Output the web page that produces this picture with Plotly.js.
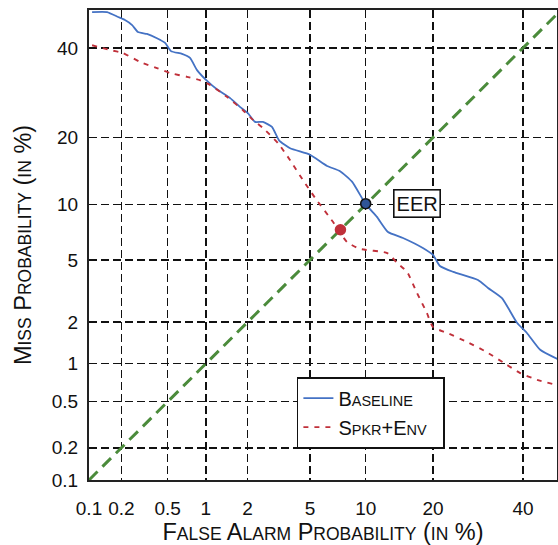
<!DOCTYPE html>
<html><head><meta charset="utf-8">
<script src="https://cdn.plot.ly/plotly-3.0.1.min.js"></script>
<style>html,body{margin:0;padding:0;background:#fff}#plot{width:558px;height:545px}</style>
</head><body><div id="plot"></div>
<script>
// Data (percent)
const baselineFA   = [0.107,0.148,0.187,0.215,0.249,0.280,0.335,0.407,0.476,0.532,0.653,0.755,0.856,1.04,1.21,1.51,1.77,2.01,2.25,2.54,2.91,3.23,3.79,4.99,6.25,7.37,8.52,10.0,11.35,12.8,14.97,18.2,20.0,21.3,23.9,29.2,31.5,34.8,38.5,41.0,44.4,49.0];
const baselineMiss = [49.3,49.3,48.0,47.2,45.9,44.1,43.6,42.5,41.3,39.2,38.5,37.5,34.5,31.7,30.0,28.0,26.1,24.8,23.0,23.0,22.0,19.5,18.1,17.0,15.2,14.4,12.9,10.05,8.65,7.19,6.67,5.86,5.34,4.60,4.24,3.78,3.37,2.90,1.98,1.68,1.27,1.08];
const spkrEnvFA    = [0.107,0.157,0.207,0.292,0.407,0.522,0.716,0.90,1.075,1.43,1.86,2.18,2.54,3.18,3.79,4.54,5.34,6.75,8.02,9.36,12.7,14.1,15.6,17.2,18.9,20.0,22.7,26.8,31.2,36.0,39.2,43.6,49.0];
const spkrEnvMiss  = [40.7,39.5,38.7,36.5,35.0,33.8,32.9,32.1,31.0,28.3,25.4,23.4,21.8,19.0,16.1,13.1,10.8,8.13,6.33,5.79,5.48,4.80,4.24,3.13,2.31,1.85,1.68,1.45,1.22,0.98,0.85,0.75,0.68];
const eerBaseline  = [10.0, 10.1];
const eerSpkrEnv   = [7.4, 7.4];
const diagonal     = [0.1, 50];
const tickValues   = [0.1,0.2,0.5,1,2,5,10,20,40];
const tickLabels   = ["0.1","0.2","0.5","1","2","5","10","20","40"];

// inverse normal CDF (Acklam)
function probit(p){
  const a=[-3.969683028665376e+01,2.209460984245205e+02,-2.759285104469687e+02,1.383577518672690e+02,-3.066479806614716e+01,2.506628277459239e+00];
  const b=[-5.447609879822406e+01,1.615858368580409e+02,-1.556989798598866e+02,6.680131188771972e+01,-1.328068155288572e+01];
  const c=[-7.784894002430293e-03,-3.223964580411365e-01,-2.400758277161838e+00,-2.549732539343734e+00,4.374664141464968e+00,2.938163982698783e+00];
  const d=[7.784695709041462e-03,3.224671290700398e-01,2.445134137142996e+00,3.754408661907416e+00];
  const pl=0.02425, ph=1-pl; let q,r;
  if(p<pl){q=Math.sqrt(-2*Math.log(p));return (((((c[0]*q+c[1])*q+c[2])*q+c[3])*q+c[4])*q+c[5])/((((d[0]*q+d[1])*q+d[2])*q+d[3])*q+1);}
  if(p<=ph){q=p-0.5;r=q*q;return (((((a[0]*r+a[1])*r+a[2])*r+a[3])*r+a[4])*r+a[5])*q/(((((b[0]*r+b[1])*r+b[2])*r+b[3])*r+b[4])*r+1);}
  q=Math.sqrt(-2*Math.log(1-p));return -(((((c[0]*q+c[1])*q+c[2])*q+c[3])*q+c[4])*q+c[5])/((((d[0]*q+d[1])*q+d[2])*q+d[3])*q+1);
}
const P = arr => arr.map(v => probit(v/100));

const FONT = '"Liberation Sans", Arial, Helvetica, sans-serif';
const sc = (big, small, s) => big + '<span style="font-size:'+s+'px">'+small+'</span>';
const pad = '<span style="font-size:19px">\u00A0\u00A0</span>';

const traces = [
  {x:P(diagonal), y:P(diagonal), mode:'lines', showlegend:false, hoverinfo:'skip',
   line:{color:'#4b8b3b', width:3, dash:'12px,7px'}},
  {x:P(baselineFA), y:P(baselineMiss), mode:'lines', name: sc('B','ASELINE',14.5),
   line:{color:'#4472c4', width:1.8, shape:'spline', smoothing:0.5}},
  {x:P(spkrEnvFA), y:P(spkrEnvMiss), mode:'lines', name: sc('S','PKR',14.5)+'+'+sc('E','NV',14.5)+pad,
   line:{color:'#c0303a', width:1.9, dash:'5px,6px', shape:'spline', smoothing:0.5}},
  {x:P([eerBaseline[0]]), y:P([eerBaseline[1]]), mode:'markers', showlegend:false,
   marker:{color:'#2f5597', size:10, line:{color:'#111', width:1.6}}},
  {x:P([eerSpkrEnv[0]]), y:P([eerSpkrEnv[1]]), mode:'markers', showlegend:false,
   marker:{color:'#c0303a', size:11.5}}
];

const axisCommon = {
  tickmode:'array', tickvals:P(tickValues), ticktext:tickLabels,
  showgrid:true, gridcolor:'#111', gridwidth:1.6, griddash:'8px,4px',
  zeroline:false, showline:true, linecolor:'#222', linewidth:2, mirror:true,
  ticks:'', tickfont:{family:FONT, size:19, color:'#111'}, automargin:false
};

const layout = {
  width:558, height:545,
  margin:{l:89, r:1, t:10, b:65},
  paper_bgcolor:'#fff', plot_bgcolor:'#fff',
  font:{family:FONT, color:'#111'},
  showlegend:true,
  xaxis: Object.assign({}, axisCommon, {
    range:[probit(0.001), -0.031], ticklabelstandoff:10,
    title:{text: sc('F','ALSE',17.5)+' '+sc('A','LARM',17.5)+' '+sc('P','ROBABILITY',17.5)+' ('+'<span style="font-size:17.5px">IN</span> %)',
           font:{family:FONT, size:23.5, color:'#111'}, standoff:12}
  }),
  yaxis: Object.assign({}, axisCommon, {
    range:[probit(0.001), -0.004], ticklabelstandoff:5,
    title:{text: sc('M','ISS',17.5)+' '+sc('P','ROBABILITY',17.5)+' ('+'<span style="font-size:17.5px">IN</span> %)',
           font:{family:FONT, size:23.5, color:'#111'}, standoff:14}
  }),
  legend:{x:0.444, y:0.219, xanchor:'left', yanchor:'top', bgcolor:'#fff',
          bordercolor:'#111', borderwidth:1.6, font:{family:FONT, size:20, color:'#111'},
          tracegroupgap:0},
  annotations:[{x:probit(eerBaseline[0]/100), y:probit(eerBaseline[1]/100), xref:'x', yref:'y',
    text:'EER', showarrow:false, xanchor:'left', yanchor:'middle', xshift:27,
    font:{family:FONT, size:20, color:'#111'}, bgcolor:'#fff', bordercolor:'#111', borderwidth:1.6, borderpad:2}]
};

Plotly.newPlot('plot', traces, layout, {displayModeBar:false, staticPlot:true});
</script></body></html>
